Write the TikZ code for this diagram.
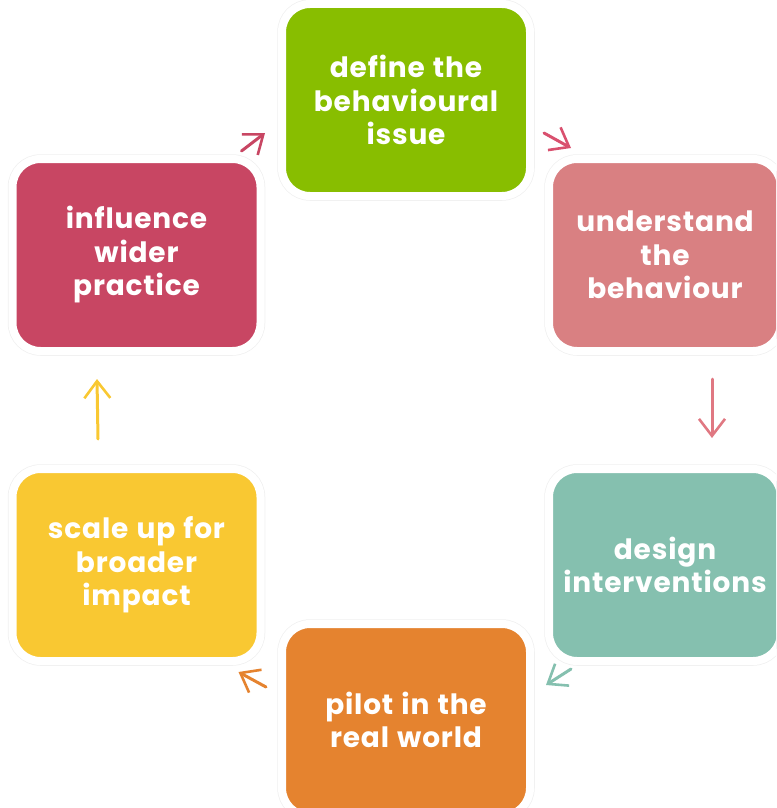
\documentclass[tikz,border=0pt]{standalone}
\usepackage{fontspec}
\setmainfont{Poppins}[LetterSpace=3, WordSpace=1.2]
\usepackage{tikz}
\usetikzlibrary{arrows.meta, calc}
\usepackage{xcolor}

\definecolor{defgreen}{HTML}{88BE00}
\definecolor{undpink}{HTML}{D98082}
\definecolor{desteal}{HTML}{85C0AF}
\definecolor{pilorange}{HTML}{E5832F}
\definecolor{scayellow}{HTML}{F9C832}
\definecolor{infcrimson}{HTML}{C84663}
\definecolor{arrred}{HTML}{D9506E}
\definecolor{arrpink}{HTML}{E07882}

\begin{document}
\begin{tikzpicture}[x=1pt, y=-1pt]
    % Define styles
    \tikzstyle{stepbox} = [rectangle, rounded corners=28pt, minimum width=248pt, minimum height=192pt, align=center, text=white, font=\bfseries\fontsize{28}{33.5}\selectfont, draw=white, line width=8pt, preaction={draw=black!6, line width=9.5pt}]
    \tikzstyle{cyclearrow} = [line width=3pt, line cap=round, -{Straight Barb[length=17pt, width=26pt, line width=2.6pt]}]

    \path[use as bounding box, clip] (0,0) rectangle (776,808);

    % Nodes
    \node (define) [stepbox, fill=defgreen] at (406,100) {define the\\behavioural\\issue};
    \node (underst) [stepbox, fill=undpink, minimum width=232pt] at (665,255) {understand\\the\\behaviour};
    \node (design) [stepbox, fill=desteal, minimum width=232pt] at (665,565) {design\\interventions};
    \node (pilot) [stepbox, fill=pilorange] at (406,720) {pilot in the\\real world};
    \node (scale) [stepbox, fill=scayellow] at (136.5,565) {scale up for\\broader\\impact};
    \node (infl) [stepbox, fill=infcrimson] at (136.5,255) {influence\\wider\\practice};

    % Arrows
    \draw [cyclearrow, draw=infcrimson] ($(infl.north east)+(-23,-4)$) -- ($(define.west)+(-13,33)$);
    \draw [cyclearrow, draw=arrred] ($(define.east)+(10,33)$) -- ($(underst.north west)+(26,-7)$);
    \draw [cyclearrow, draw=arrpink] ($(underst.south)+(47,24)$) -- ($(design.north)+(47,-27)$);
    \draw [cyclearrow, draw=desteal] ($(design.south west)+(26,4)$) -- ($(pilot.east)+(12,-35)$);
    \draw [cyclearrow, draw=pilorange] ($(pilot.west)+(-12,-33)$) -- ($(scale.south east)+(-26,7)$);
    \draw [cyclearrow, draw=scayellow] ($(scale.north)+(-38.5,-26)$) -- ($(infl.south)+(-39.5,24)$);
\end{tikzpicture}
\end{document}
